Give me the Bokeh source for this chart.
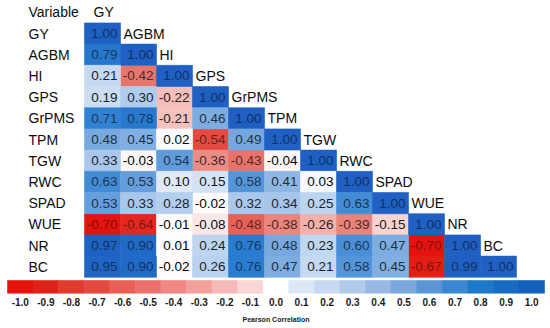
from bokeh.plotting import figure
from bokeh.models import Range1d, ColumnDataSource, LinearColorMapper
from bokeh.transform import transform
from bokeh.core.properties import value
from bokeh.embed import file_html
from bokeh.resources import INLINE

# ---------------- data ----------------
variables = ["GY", "AGBM", "HI", "GPS", "GrPMS", "TPM", "TGW", "RWC", "SPAD", "WUE", "NR", "BC"]
corr_rows = [
    [1.00],
    [0.79, 1.00],
    [0.21, -0.42, 1.00],
    [0.19, 0.30, -0.22, 1.00],
    [0.71, 0.78, -0.21, 0.46, 1.00],
    [0.48, 0.45, 0.02, -0.54, 0.49, 1.00],
    [0.33, -0.03, 0.54, -0.36, -0.43, -0.04, 1.00],
    [0.63, 0.53, 0.10, 0.15, 0.58, 0.41, 0.03, 1.00],
    [0.53, 0.33, 0.28, -0.02, 0.32, 0.34, 0.25, 0.63, 1.00],
    [-0.70, -0.64, -0.01, -0.08, -0.48, -0.38, -0.26, -0.39, -0.15, 1.00],
    [0.97, 0.90, 0.01, 0.24, 0.76, 0.48, 0.23, 0.60, 0.47, -0.70, 1.00],
    [0.95, 0.90, -0.02, 0.26, 0.76, 0.47, 0.21, 0.58, 0.45, -0.67, 0.99, 1.00],
]
colorbar_ticks = [-1.0, -0.9, -0.8, -0.7, -0.6, -0.5, -0.4, -0.3, -0.2, -0.1, 0.0,
                  0.1, 0.2, 0.3, 0.4, 0.5, 0.6, 0.7, 0.8, 0.9, 1.0]
colorbar_title = "Pearson Correlation"
corner_label = "Variable"

# ---------------- style ----------------
CB_PALETTE = [
    "#E6120E", "#DF2219", "#E13A2F", "#E4493F", "#E95E55", "#EC716A", "#F08983",
    "#F3A09C", "#F7B9B7", "#FAD5D4", "#FFFFFF",
    "#DDE8F7", "#C8DAF1", "#B2CBEA", "#97B9E3", "#7AA7DC", "#5A95D5", "#3A86D0",
    "#1C79C9", "#176BC1", "#1460B9",
]
RED_ANCHORS = [(0.0, "#FFFFFF"), (0.2, "#F8D6D2"), (0.4, "#F2ABA5"),
               (0.6, "#E8776E"), (0.8, "#E5443A"), (1.0, "#E3140E")]
BLUE_ANCHORS = [(0.0, "#FFFFFF"), (0.1, "#E0EAF7"), (0.25, "#BCD4F0"), (0.35, "#A4C4EA"),
                (0.5, "#72A6DE"), (0.6, "#4A90D8"), (0.75, "#2A7ED0"), (0.9, "#216CC8"),
                (1.0, "#1F60C2")]
RED_SAT = 0.70   # magnitude at which the cell red saturates
FONT = value("Liberation Sans")


def hex2rgb(h):
    h = h.lstrip("#")
    return tuple(int(h[i:i + 2], 16) for i in (0, 2, 4))


def interp(anchors, t):
    t = max(0.0, min(1.0, t))
    for (t0, c0), (t1, c1) in zip(anchors[:-1], anchors[1:]):
        if t <= t1:
            f = (t - t0) / (t1 - t0) if t1 > t0 else 0
            a, b = hex2rgb(c0), hex2rgb(c1)
            return "#%02x%02x%02x" % tuple(int(round(a[i] + (b[i] - a[i]) * f)) for i in range(3))
    return anchors[-1][1]


N = 100
RED_PAL = [interp(RED_ANCHORS, 1 - i / (N - 1)) for i in range(N)]     # low=-sat .. high=0
BLUE_PAL = [interp(BLUE_ANCHORS, i / (N - 1)) for i in range(N)]       # low=0 .. high=1
red_mapper = LinearColorMapper(palette=RED_PAL, low=-RED_SAT, high=0.0)
blue_mapper = LinearColorMapper(palette=BLUE_PAL, low=0.0, high=1.0)
cb_mapper = LinearColorMapper(palette=CB_PALETTE, low=-1.05, high=1.05)


def cell_color(v):
    return interp(RED_ANCHORS, -v / RED_SAT) if v < 0 else interp(BLUE_ANCHORS, v)


def text_color_for(v):
    r, g, b = hex2rgb(cell_color(v))
    lum = (0.2126 * r + 0.7152 * g + 0.0722 * b) / 255.0
    s = 0.8 * (1 - lum)
    return "#%02x%02x%02x" % (int(r * s), int(g * s), int(b * s))


W, H = 550, 328
CELL_W, CELL_H = 36.0, 21.2
X0, Y0 = 84.0, 22.4          # pixel position of matrix top-left

x_start = -X0 / CELL_W
x_end = x_start + W / CELL_W
y_top = -Y0 / CELL_H
y_bottom = y_top + H / CELL_H


def py2y(py):
    return y_top + py / CELL_H


def px2x(px):
    return x_start + px / CELL_W


CB_L, CB_R = 7.0, 544.0
CB_T, CB_B = 280.0, 292.7
cb_scale = (CB_R - CB_L) / 2.1
cb_start = -1.05 + (0 - CB_L) / cb_scale
cb_end = -1.05 + (W - CB_L) / cb_scale

neg = dict(x=[], y=[], v=[], label=[], tx=[], tcol=[])
pos = dict(x=[], y=[], v=[], label=[], tx=[], tcol=[])
for r, row in enumerate(corr_rows):
    for c, v in enumerate(row):
        d = neg if v < 0 else pos
        d["x"].append(c + 0.5)
        d["y"].append(r + 0.5)
        d["v"].append(v)
        d["label"].append(f"{v:.2f}")
        d["tx"].append(c + 1 - 3 / CELL_W)
        d["tcol"].append(text_color_for(v))
neg_src = ColumnDataSource(neg)
pos_src = ColumnDataSource(pos)

p = figure(width=W, height=H, x_range=Range1d(x_start, x_end),
           y_range=Range1d(y_bottom, y_top), output_backend="svg",
           toolbar_location=None, x_axis_location=None, y_axis_location=None,
           min_border=0, outline_line_color=None, background_fill_color="white",
           border_fill_color="white")
p.xgrid.visible = False
p.ygrid.visible = False
p.extra_x_ranges = {"cb": Range1d(cb_start, cb_end)}

# heatmap cells
for s, m in ((neg_src, red_mapper), (pos_src, blue_mapper)):
    p.rect(x="x", y="y", width=1, height=1, source=s,
           fill_color=transform("v", m), line_color=transform("v", m), line_width=0.6)
for s in (neg_src, pos_src):
    p.text(x="tx", y="y", text="label", source=s, text_align="right",
           text_baseline="middle", text_font=FONT, text_font_size=value("13.5px"),
           text_color="tcol")

# row labels
lab_x = px2x(28)
p.text(x=[lab_x] * len(variables), y=[r + 0.5 for r in range(len(variables))],
       text=variables, text_align="left", text_baseline="middle", text_font=FONT,
       text_font_size=value("14px"), text_color="#0d0d0d")
p.text(x=[lab_x], y=[-0.5], text=[corner_label], text_align="left",
       text_baseline="middle", text_font=FONT, text_font_size=value("14px"),
       text_color="#0d0d0d")

# column (diagonal) labels
hx = [c + (9 if c == 0 else 3) / CELL_W for c in range(len(variables))]
hy = [c - 0.5 for c in range(len(variables))]
p.text(x=hx, y=hy, text=variables, text_align="left", text_baseline="middle",
       text_font=FONT, text_font_size=value("14px"), text_color="#0d0d0d")

# colour bar
cb_y = py2y((CB_T + CB_B) / 2)
cb_h = (CB_B - CB_T) / CELL_H
cb_src = ColumnDataSource(dict(x=colorbar_ticks, y=[cb_y] * len(colorbar_ticks),
                               ty=[py2y(301.5)] * len(colorbar_ticks),
                               lab=[f"{t:.1f}" for t in colorbar_ticks]))
p.rect(x="x", y="y", width=0.1, height=cb_h, source=cb_src,
       x_range_name="cb", fill_color=transform("x", cb_mapper),
       line_color=transform("x", cb_mapper), line_width=0.6)
p.text(x="x", y="ty", text="lab", source=cb_src, x_range_name="cb",
       text_align="center", text_baseline="middle", text_font=FONT,
       text_font_size=value("10px"), text_font_style="bold", text_color="#1a1a1a")
p.text(x=[0.0], y=[py2y(319)], text=[colorbar_title], x_range_name="cb",
       text_align="center", text_baseline="middle", text_font=FONT,
       text_font_size=value("7px"), text_font_style="bold", text_color="#1a1a1a")

open("out.html", "w").write(file_html(p, INLINE))
